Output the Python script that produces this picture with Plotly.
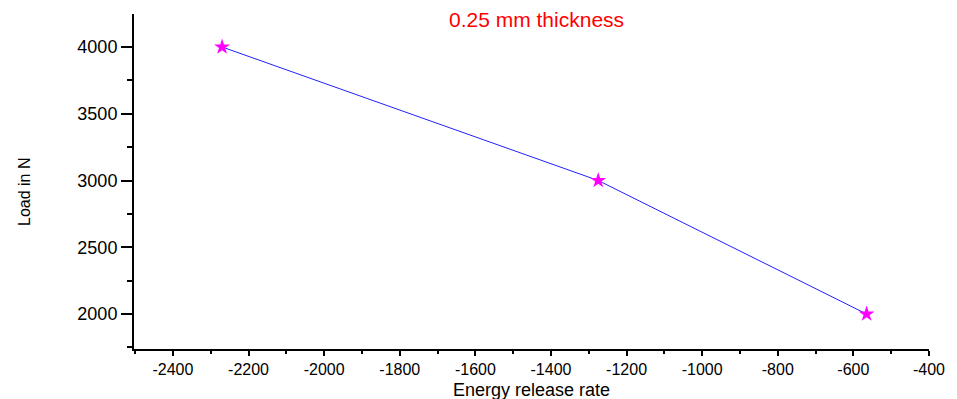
import plotly.graph_objects as go

energy_release_rate = [-2270, -1275, -565]
load_n = [4000, 3000, 2000]

x_tick_vals = [-2400, -2200, -2000, -1800, -1600, -1400, -1200, -1000, -800, -600, -400]
y_tick_vals = [2000, 2500, 3000, 3500, 4000]

title_text = "0.25 mm thickness"
x_title = "Energy release rate"
y_title = "Load in N"

W, H = 957, 399
L, R, T, B = 134, 28, 14, 50

fig = go.Figure()
fig.add_trace(go.Scatter(
    x=energy_release_rate, y=load_n, mode="lines+markers",
    line=dict(color="#2222ff", width=1),
    marker=dict(symbol="star", size=12, color="#ff00ff", line=dict(width=0)),
    showlegend=False,
))

font_main = "Liberation Sans, Arial, sans-serif"
PW, PH = W - L - R, H - T - B

fig.update_layout(
    width=W, height=H,
    margin=dict(l=L, r=R, t=T, b=B, pad=0, autoexpand=False),
    paper_bgcolor="white", plot_bgcolor="white",
    font=dict(family=font_main, color="black"),
    xaxis=dict(
        range=[-2503, -400], tickvals=x_tick_vals,
        ticktext=[str(v) for v in x_tick_vals],
        showgrid=False, zeroline=False, automargin=False,
        showline=True, linecolor="black", linewidth=2,
        ticks="outside", ticklen=5, tickwidth=2, tickcolor="black",
        tickfont=dict(size=16, family=font_main),
        minor=dict(dtick=100, tick0=-2500, ticks="outside", ticklen=3, tickwidth=2, tickcolor="black", showgrid=False),
    ),
    yaxis=dict(
        range=[1738, 4247], tickvals=y_tick_vals,
        showgrid=False, zeroline=False, automargin=False,
        showline=True, linecolor="black", linewidth=2,
        ticks="outside", ticklen=11, tickwidth=2, tickcolor="black",
        tickfont=dict(size=18, family=font_main),
        minor=dict(dtick=250, tick0=1750, ticks="outside", ticklen=5, tickwidth=2, tickcolor="black", showgrid=False),
    ),
    annotations=[
        dict(text=title_text, xref="paper", yref="paper",
             x=(536 - L) / PW, y=1 - (20 - T) / PH,
             xanchor="center", yanchor="middle", showarrow=False,
             font=dict(size=21, color="#ff0000", family=font_main)),
        dict(text=x_title, xref="paper", yref="paper",
             x=(531 - L) / PW, y=-(390 - (T + PH)) / PH,
             xanchor="center", yanchor="middle", showarrow=False,
             font=dict(size=18, color="black", family=font_main)),
        dict(text=y_title, xref="paper", yref="paper",
             x=(24 - L) / PW, y=1 - (192 - T) / PH,
             xanchor="center", yanchor="middle", showarrow=False, textangle=-90,
             font=dict(size=16, color="black", family=font_main)),
    ],
)

fig.write_html("out.html")
